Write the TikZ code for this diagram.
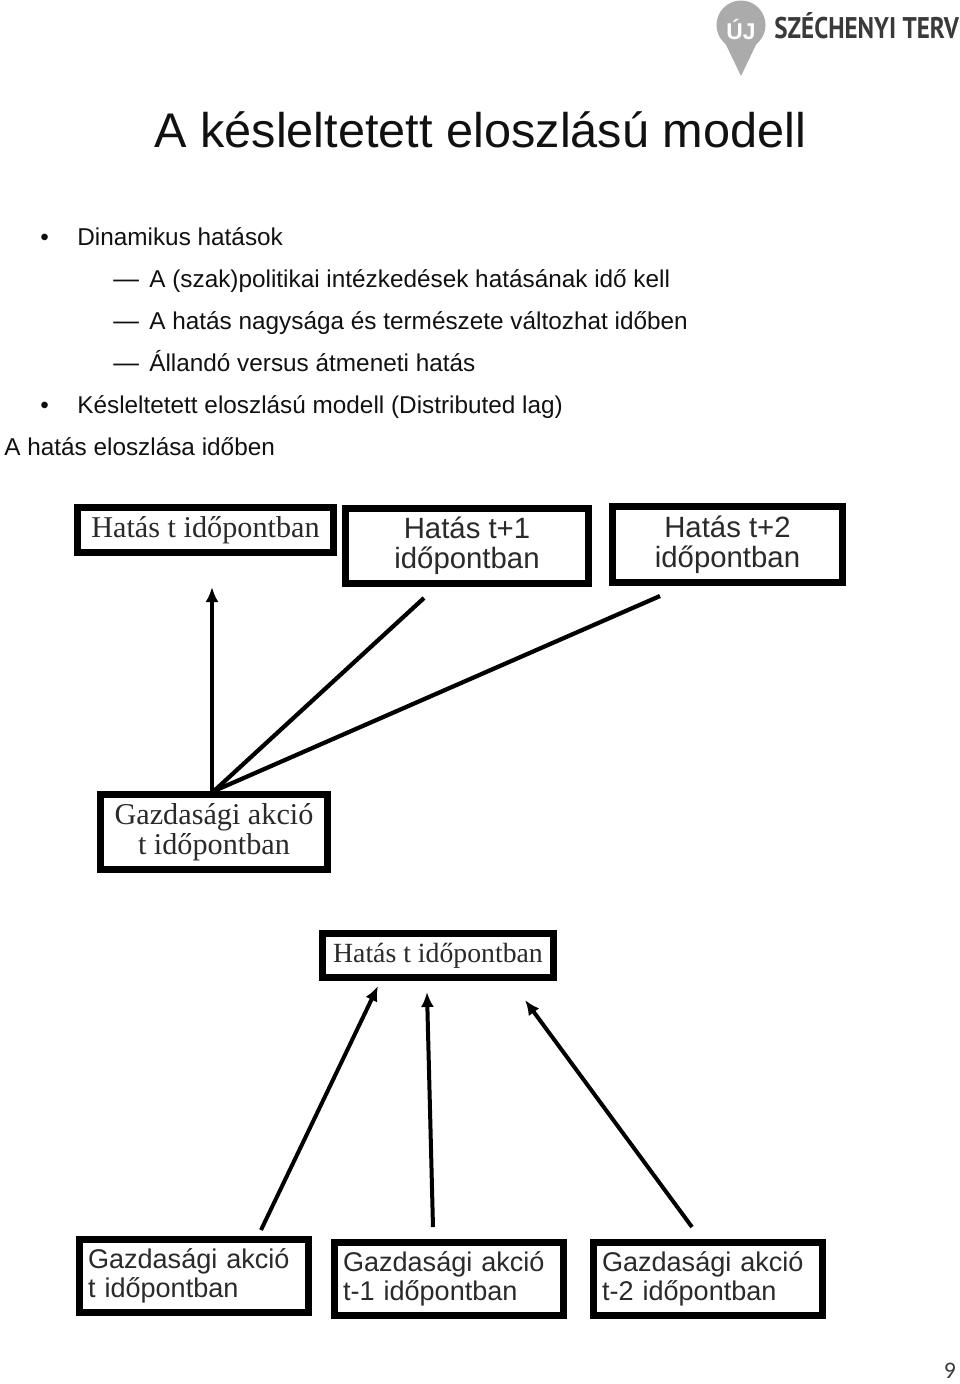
\documentclass[tikz,border=0pt]{standalone}
\usepackage{fontspec}
\setmainfont{Liberation Sans}
\newfontfamily\serifface{Liberation Serif}
\newfontfamily\logoface[FakeStretch=0.84]{PT Sans}
\newfontfamily\pageface{Carlito}
\usetikzlibrary{positioning, calc, arrows.meta}
\definecolor{Ink}{HTML}{111111}
\definecolor{BoxText}{HTML}{2A2A2A}
\definecolor{Pin}{HTML}{ABABAB}
\definecolor{LogoText}{HTML}{3A3A3A}
\tikzset{
    bodytext/.style={anchor=base west, inner sep=0pt, text=Ink, font=\fontsize{13.85}{16}\selectfont},
    dashtext/.style={bodytext, font=\fontsize{14.6}{16}\selectfont},
    framebox/.style={rectangle, draw=black, line width=0.14cm, fill=white, text=BoxText, align=center, inner sep=0pt},
    serifbox/.style={framebox, font=\serifface\fontsize{17.2}{17}\selectfont},
    sansbox/.style={framebox, font=\fontsize{16.7}{17}\selectfont},
    leftbox/.style={framebox, align=left, font=\fontsize{15.4}{16.6}\selectfont},
    tiparrow/.style={-{Latex[length=0.3cm, width=0.26cm]}, line width=0.08cm, color=black},
    plainline/.style={line width=0.085cm, color=black},
}

\begin{document}
\begin{tikzpicture}[x=0.02cm, y=-0.02cm]
    \useasboundingbox (0,0) rectangle (960,1384);

    % --- Logo ---
    \fill[Pin] (716.5,25) arc[start angle=180, end angle=360, radius=24.5] -- (741,76) -- cycle;
    \fill[Pin] (716.5,25) arc[start angle=180, end angle=0, radius=24.5] -- cycle;
    \node[font=\bfseries\fontsize{13}{13}\selectfont, text=white, inner sep=0pt] (logopin) at (741,29) {ÚJ};
    \node[anchor=base west, inner sep=0pt, text=LogoText, font=\logoface\bfseries\fontsize{17}{17}\selectfont] (logotext) at (774,38) {SZÉCHENYI TERV};

    % --- Szoveg ---
    \node[anchor=base west, inner sep=0pt, text=Ink, font=\fontsize{27.7}{30}\selectfont] (title) at (154,147) {A késleltetett eloszlású modell};

    \node[bodytext] (b1) at (40,245) {•};
    \node[bodytext] (l1) at (77,245) {Dinamikus hatások};
    \node[dashtext] (d2) at (113,287) {—};
    \node[bodytext] (l2) at (149,287) {A (szak)politikai intézkedések hatásának idő kell};
    \node[dashtext] (d3) at (113,329) {—};
    \node[bodytext] (l3) at (149,329) {A hatás nagysága és természete változhat időben};
    \node[dashtext] (d4) at (113,371) {—};
    \node[bodytext] (l4) at (149,371) {Állandó versus átmeneti hatás};
    \node[bodytext] (b5) at (40,413) {•};
    \node[bodytext] (l5) at (77,413) {Késleltetett eloszlású modell (Distributed lag)};
    \node[bodytext] (l6) at (4,455) {A hatás eloszlása időben};

    % --- Felso abra ---
    \node[serifbox, minimum width=5.12cm, minimum height=0.9cm] (hatast) at (205.5,530) {Hatás t időpontban};
    \node[sansbox, minimum width=4.86cm, minimum height=1.5cm] (hatast1) at (467,546) {Hatás t+1\\időpontban};
    \node[sansbox, minimum width=4.6cm, minimum height=1.52cm] (hatast2) at (727.5,544.5) {Hatás t+2\\időpontban};
    \node[serifbox, minimum width=4.54cm, minimum height=1.5cm] (akcio) at (214,832) {Gazdasági akció\\t időpontban};

    \coordinate (topa) at (212,587);
    \coordinate (topb) at (424,598);
    \coordinate (topc) at (660,596);

    \draw[tiparrow] (akcio.north -| topa) -- (topa);
    \draw[plainline] (akcio.north) -- (topb);
    \draw[plainline] (akcio.north) -- (topc);

    % --- Also abra ---
    \node[serifbox, font=\serifface\fontsize{15.8}{17}\selectfont, minimum width=4.62cm, minimum height=0.88cm] (hatasb) at (438,955.5) {Hatás t időpontban};
    \node[leftbox, text width=4.24cm, minimum width=4.58cm, minimum height=1.46cm] (akcio0) at (194,1276) {Gazdasági akció\\t időpontban};
    \node[leftbox, text width=4.24cm, minimum width=4.58cm, minimum height=1.46cm] (akcio1) at (449,1279) {Gazdasági akció\\t-1 időpontban};
    \node[leftbox, text width=4.24cm, minimum width=4.58cm, minimum height=1.46cm] (akcio2) at (708,1279) {Gazdasági akció\\t-2 időpontban};

    \coordinate (bota) at (378,986);  \coordinate (froma) at (261,1230);
    \coordinate (botb) at (427,992);  \coordinate (fromb) at (433,1227);
    \coordinate (botc) at (525,1000); \coordinate (fromc) at (692,1227);

    \foreach \s/\t in {froma/bota, fromb/botb, fromc/botc}
        \draw[tiparrow] (\s) -- (\t);

    % --- Oldalszam ---
    \node[inner sep=0pt, text=LogoText, font=\pageface\fontsize{13.5}{13.5}\selectfont] (page) at (950,1371) {9};
\end{tikzpicture}
\end{document}
